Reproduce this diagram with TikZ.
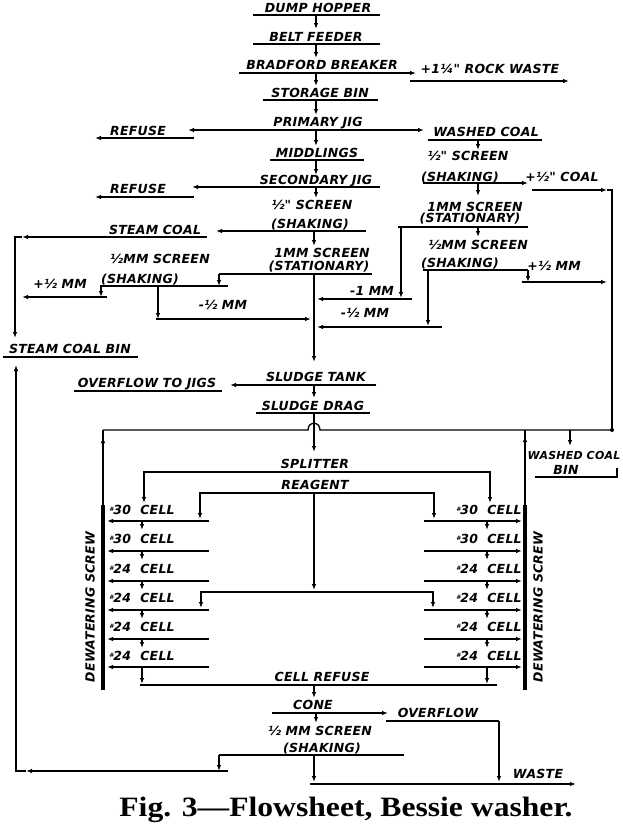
\documentclass[tikz,border=0pt]{standalone}
\usepackage{fontspec}
\usetikzlibrary{arrows.meta}
\newfontfamily\lf{DejaVu Sans}[LetterSpace=2]
\newfontfamily\capf{Liberation Serif}[FakeStretch=1.13]
\newcommand\lfont{\lf\bfseries\itshape\fontsize{12.5}{12.5}\selectfont}
\newcommand\hs{\raisebox{3pt}{\fontsize{6}{6}\selectfont\#}}
\begin{document}
\begin{tikzpicture}[x=1pt,y=-1pt,line width=1.3pt,
  >={Latex[length=6pt,width=4.5pt]},
  lbl/.style={font=\lfont,inner sep=0pt,text height=9.1pt,text depth=0pt}]
\useasboundingbox[fill=white] (0,0) rectangle (622,835);
% ---------- main column top
\node[lbl] (dh) at (318,8) {DUMP HOPPER};
\draw (253,15) -- (380,15);
\draw[->] (316,15) -- (316,29);
\node[lbl] (bf) at (316,37) {BELT FEEDER};
\draw (253,44) -- (380,44);
\draw[->] (316,44) -- (316,58);
\node[lbl] (bb) at (322,65) {BRADFORD BREAKER};
\draw[->] (239,73) -- (416,73);
\node[lbl] (rw) at (490,69) {+1¼" ROCK WASTE};
\draw[->] (410,81) -- (569,81);
\draw[->] (316,73) -- (316,86);
\node[lbl] (sb) at (320,93) {STORAGE BIN};
\draw (263,100) -- (378,100);
\draw[->] (316,100) -- (316,115);
\node[lbl] (pj) at (318,122) {PRIMARY JIG};
\draw[<->] (188,130) -- (424,130);
\node[lbl] (rf1) at (138,131) {REFUSE};
\draw[->] (194,138) -- (95,138);
\node[lbl] (wc) at (486,132) {WASHED COAL};
\draw (428,140) -- (542,140);
\draw[->] (316,130) -- (316,146);
\node[lbl] (mid) at (317,153) {MIDDLINGS};
\draw (270,160) -- (364,160);
\draw[->] (316,160) -- (316,175);
\node[lbl] (sj) at (316,180) {SECONDARY JIG};
\draw[->] (380,187) -- (192,187);
\node[lbl] (rf2) at (138,189) {REFUSE};
\draw[->] (194,197) -- (95,197);
\draw[->] (316,187) -- (316,198);
\node[lbl] (hs1) at (312,205) {½" SCREEN};
\node[lbl] (sh1) at (310,224) {(SHAKING)};
\draw[->] (366,231) -- (216,231);
\node[lbl] (stc) at (155,230) {STEAM COAL};
\draw[->] (207,237) -- (22,237);
\draw[->] (22,237) -- (15,237) -- (15,338);
\draw[->] (314,231) -- (314,246);
\node[lbl] (ms1) at (322,253) {1MM SCREEN};
\node[lbl] (st1) at (319,266) {(STATIONARY)};
\draw (219,274) -- (372,274);
\draw[->] (219,274) -- (219,286);
\node[lbl] (hm1) at (160,259) {½MM SCREEN};
\node[lbl] (sh2) at (140,279) {(SHAKING)};
\draw (100,286) -- (228,286);
\draw[->] (101,286) -- (101,297);
\node[lbl] (pm1) at (60,284) {+½ MM};
\draw[->] (107,297) -- (22,297);
\draw[->] (158,286) -- (158,319);
\draw[->] (156,319) -- (311,319);
\node[lbl] (mm1) at (223,305) {-½ MM};
\draw[->] (314,274) -- (314,362);
\draw[->] (412,299) -- (317,299);
\node[lbl] (m1) at (372,291) {-1 MM};
\draw[->] (442,327) -- (317,327);
\node[lbl] (mm2) at (365,313) {-½ MM};
\node[lbl] (scb) at (70,349) {STEAM COAL BIN};
\draw (3,357) -- (138,357);
% ---------- right column
\draw[->] (478,140) -- (478,150);
\node[lbl] (hs2) at (468,156) {½" SCREEN};
\node[lbl] (sh3) at (460,177) {(SHAKING)};
\draw[->] (423,183) -- (528,183);
\node[lbl] (pc) at (562,177) {+½" COAL};
\draw[->] (532,190) -- (607,190);
\draw (607,190) -- (612,190) -- (612,430);
\draw[->] (478,183) -- (478,196);
\node[lbl] (ms2) at (475,207) {1MM SCREEN};
\node[lbl] (st2) at (470,218) {(STATIONARY)};
\draw (398,227) -- (528,227);
\draw[->] (401,227) -- (401,298);
\draw[->] (478,227) -- (478,237);
\node[lbl] (hm2) at (478,245) {½MM SCREEN};
\node[lbl] (sh4) at (460,263) {(SHAKING)};
\draw (423,270) -- (528,270);
\draw[->] (528,270) -- (528,282);
\node[lbl] (pm2) at (554,266) {+½ MM};
\draw[->] (522,282) -- (607,282);
\draw[->] (428,270) -- (428,326);
% ---------- sludge
\node[lbl] (stk) at (316,377) {SLUDGE TANK};
\draw[->] (376,385) -- (230,385);
\node[lbl] (otj) at (147,383) {OVERFLOW TO JIGS};
\draw (74,391) -- (222,391);
\draw[->] (314,385) -- (314,398);
\node[lbl] (sd) at (313,406) {SLUDGE DRAG};
\draw (256,413) -- (370,413);
\draw[->] (314,413) -- (314,452);
\draw (103,430) -- (308,430) .. controls (308,421) and (320,421) .. (320,430) -- (612,430);
\fill (612,430) circle (2pt);
\draw (103,505) -- (103,430);
\draw[->] (103,470) -- (103,437);
\draw (525,505) -- (525,430);
\draw[->] (525,470) -- (525,436);
\draw[->] (570,430) -- (570,446);
\node[lbl,font=\lf\bfseries\itshape\fontsize{11}{11}\selectfont,anchor=east] (wcb) at (621,455) {WASHED COAL};
\node[lbl] (bin) at (566,470) {BIN};
\draw (535,477) -- (617,477) -- (617,468);
% ---------- splitter / reagent
\node[lbl] (spl) at (315,464) {SPLITTER};
\draw[->] (314,472) -| (144,503);
\draw[->] (314,472) -| (490,503);
\node[lbl] (rea) at (315,485) {REAGENT};
\draw[->] (314,493) -| (200,519);
\draw[->] (314,493) -| (434,519);
\draw[->] (314,493) -- (314,590);
\draw[->] (314,592) -| (201,608);
\draw[->] (314,592) -| (433,608);
% ---------- cells
\foreach \ly/\ty/\n in {521/510/30,551/539/30,581/569/24,610/598/24,639/627/24,667/656/24}{
  \node[lbl] at (142,\ty) {\hs\n\ \ CELL};
  \draw[->] (209,\ly) -- (107,\ly);
  \node[lbl] at (489,\ty) {\hs\n\ \ CELL};
  \draw[->] (424,\ly) -- (522,\ly);
}
\foreach \a/\b in {521/530,551/560,581/590,610/619,639/648}{
  \draw[->] (142,\a) -- (142,\b);
  \draw[->] (487,\a) -- (487,\b);
}
\draw[->] (142,667) -- (142,684);
\draw[->] (487,667) -- (487,684);
\draw[line width=4pt] (103,505) -- (103,690);
\draw[line width=4pt] (525,505) -- (525,690);
\node[lbl,rotate=90] (dw1) at (90,607) {DEWATERING SCREW};
\node[lbl,rotate=90] (dw2) at (538,607) {DEWATERING SCREW};
% ---------- bottom
\node[lbl] (cr) at (322,677) {CELL REFUSE};
\draw (140,685) -- (497,685);
\draw[->] (314,685) -- (314,698);
\node[lbl] (cone) at (313,705) {CONE};
\draw[->] (272,713) -- (388,713);
\node[lbl] (ovf) at (438,713) {OVERFLOW};
\draw (386,721) -- (499,721);
\draw[->] (499,721) -- (499,782);
\draw[->] (316,713) -- (316,723);
\node[lbl] (hm3) at (320,731) {½ MM SCREEN};
\node[lbl] (sh5) at (322,748) {(SHAKING)};
\draw (219,755) -- (404,755);
\draw[->] (219,755) -- (219,771);
\draw[->] (228,771) -- (26,771);
\draw[->] (26,771) -- (16,771) -- (16,365);
\draw[->] (314,755) -- (314,782);
\draw[->] (310,784) -- (576,784);
\node[lbl] (wst) at (538,774) {WASTE};
\node[font=\capf\bfseries\fontsize{28}{28}\selectfont,inner sep=0pt] (cap) at (346,810) {Fig. 3—Flowsheet, Bessie washer.};
\end{tikzpicture}
\end{document}
